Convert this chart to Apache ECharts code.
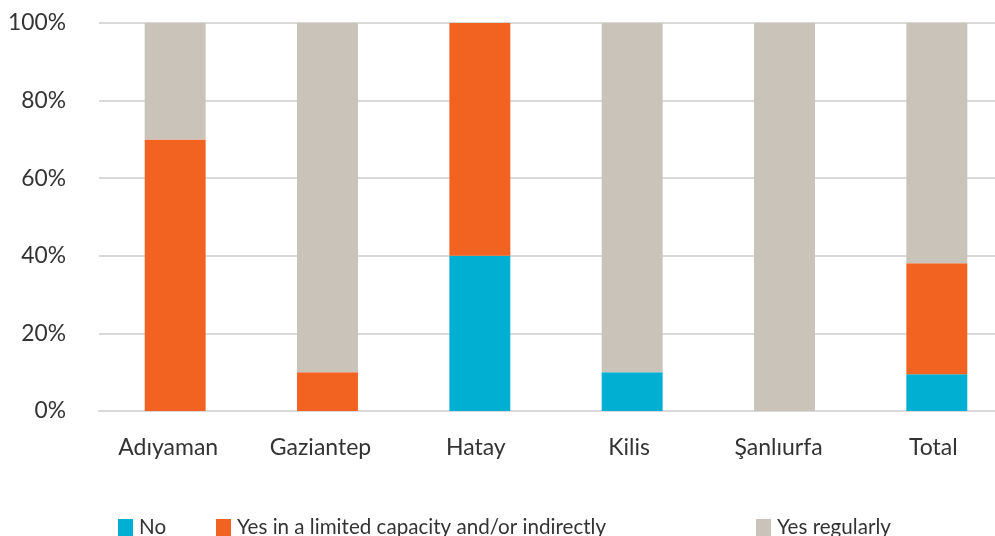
<!DOCTYPE html>
<html>
<head>
<meta charset="utf-8">
<script src="https://cdn.jsdelivr.net/npm/echarts@6/dist/echarts.min.js"></script>
<style>
  html, body { margin: 0; padding: 0; background: #ffffff; overflow: hidden; }
  #chart { width: 1013px; height: 536px; }
</style>
</head>
<body>
<div id="chart"></div>
<script>
// Provinces and share of respondents per answer (%)
const categories = ['Adıyaman', 'Gaziantep', 'Hatay', 'Kilis', 'Şanlıurfa', 'Total'];
const seriesNames = ['No', 'Yes in a limited capacity and/or indirectly', 'Yes regularly'];
const noValues = [0, 0, 40, 10, 0, 9.5];
const limitedValues = [70, 10, 60, 0, 0, 28.6];
const regularValues = [30, 90, 0, 90, 100, 61.9];
const yTicks = [0, 20, 40, 60, 80, 100];

const colors = ['#00AFD1', '#F26322', '#C9C3BA'];
const font = 'Lato, "Noto Sans", sans-serif';
const catFontSize = 23;

const chart = echarts.init(document.getElementById('chart'));

// Category labels sit slightly left of their bar, by a share of their own width
const measureCtx = document.createElement('canvas').getContext('2d');
measureCtx.font = catFontSize + 'px ' + font;
const catRich = {};
categories.forEach((c, i) => {
  const w = measureCtx.measureText(c).width;
  catRich['c' + i] = {
    fontFamily: font, fontSize: catFontSize, color: '#333333',
    padding: [0, Math.round(w * 0.14), 0, 0]
  };
});

const valueLists = [noValues, limitedValues, regularValues];
const series = seriesNames.map((name, i) => ({
  name: name,
  type: 'bar',
  stack: 'share',
  barWidth: '40%',
  data: valueLists[i],
  itemStyle: { color: colors[i] },
  emphasis: { disabled: true }
}));

const legendLefts = [113, 211, 751];
const legends = seriesNames.map((name, i) => ({
  data: [name],
  left: legendLefts[i],
  top: 512,
  itemWidth: 15,
  itemHeight: 17,
  itemGap: 6,
  icon: 'rect',
  selectedMode: false,
  textStyle: { fontFamily: font, fontSize: 20.6, color: '#333333', padding: [0, 0, 0, 1] }
}));

chart.setOption({
  animation: false,
  color: colors,
  grid: { left: 99, right: 0, top: 23, bottom: 125, containLabel: false },
  legend: legends,
  xAxis: {
    type: 'category',
    data: categories,
    axisLine: { show: true, lineStyle: { color: '#d9d9d9', width: 2 } },
    axisTick: { show: false },
    axisLabel: {
      interval: 0,
      hideOverlap: false,
      fontFamily: font, fontSize: catFontSize, color: '#333333', margin: 25,
      formatter: (v, i) => '{c' + i + '|' + v + '}',
      rich: catRich
    }
  },
  yAxis: {
    type: 'value',
    min: yTicks[0],
    max: yTicks[yTicks.length - 1],
    interval: yTicks[1] - yTicks[0],
    axisLine: { show: false },
    axisTick: { show: false },
    splitLine: { lineStyle: { color: '#d9d9d9', width: 2 } },
    axisLabel: {
      fontFamily: font, fontSize: 22.8, color: '#333333', margin: 33,
      formatter: v => v + '%'
    }
  },
  series: series
});
</script>
</body>
</html>
